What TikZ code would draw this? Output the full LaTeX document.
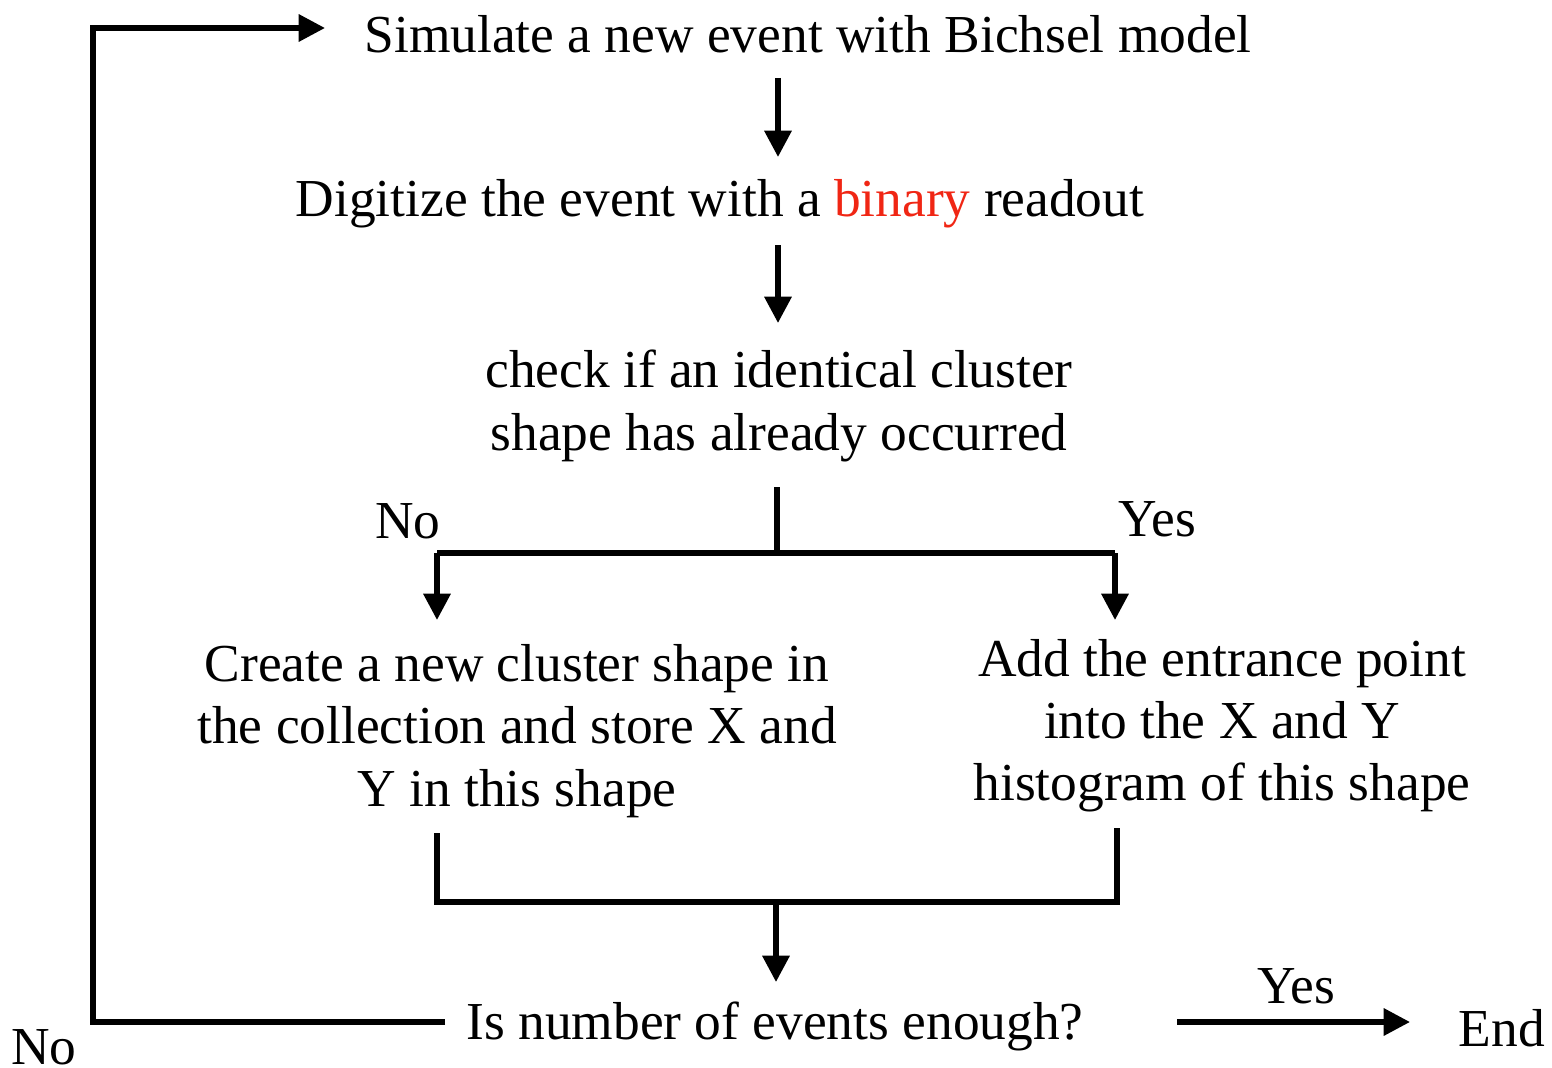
\documentclass[tikz,border=0pt]{standalone}
\usepackage{fontspec}
\setmainfont{Liberation Serif}
\usetikzlibrary{arrows.meta}
\definecolor{binred}{RGB}{240,38,20}
\begin{document}
\begin{tikzpicture}[x=0.02cm,y=-0.02cm,
  txt/.style={font=\fontsize{30.4}{35.4}\selectfont, inner sep=0pt, align=center},
  ln/.style={line width=3.1pt},
  arr/.style={line width=3.1pt, -{Triangle[width=15pt,length=15pt]}}]
\useasboundingbox (0,0) rectangle (1552,1068);
\node[txt] (sim) at (808,34) {Simulate a new event with Bichsel model};
\node[txt] (dig) at (720,204) {Digitize the event with a \textcolor{binred}{binary} readout};
\node[txt] (chk) at (779,406) {check if an identical cluster\\shape has already occurred};
\node[txt] (create) at (517,731) {Create a new cluster shape in\\the collection and store X and\\Y in this shape};
\node[txt] (add) at (1222,726) {Add the entrance point\\into the X and Y\\histogram of this shape};
\node[txt] (enough) at (775,1026) {Is number of events enough?};
\node[txt] (endn) at (1502,1028) {End};
\node[txt] (no1) at (408,521) {No};
\node[txt] (yes1) at (1157,519) {Yes};
\node[txt] (yes2) at (1296,986) {Yes};
\node[txt] (no2) at (44,1047) {No};
% connector coordinates
\coordinate (s1) at (778,78);  \coordinate (e1) at (778,157);
\coordinate (s2) at (778,245); \coordinate (e2) at (778,323);
\coordinate (s3) at (777,487); \coordinate (j3) at (777,553);
\coordinate (bl) at (437,553); \coordinate (br) at (1115,553);
\coordinate (el) at (437,620); \coordinate (er) at (1115,620);
\coordinate (cl) at (437,833); \coordinate (cr) at (1117,828);
\coordinate (ml) at (437,902); \coordinate (mr) at (1117,902);
\coordinate (m4) at (776,902); \coordinate (e4) at (776,982);
\coordinate (ls) at (445,1022); \coordinate (lc1) at (93,1022);
\coordinate (lc2) at (93,28); \coordinate (le) at (325,28);
\coordinate (ys) at (1177,1022); \coordinate (ye) at (1410,1022);
\draw[arr] (s1) -- (e1);
\draw[arr] (s2) -- (e2);
\draw[ln] (s3) -- (j3);
\draw[ln] (bl) -- (br);
\draw[arr] (bl) -- (el);
\draw[arr] (br) -- (er);
\draw[ln] (cl) -- (ml) -- (mr) -- (cr);
\draw[arr] (m4) -- (e4);
\draw[arr] (ls) -- (lc1) -- (lc2) -- (le);
\draw[arr] (ys) -- (ye);
\end{tikzpicture}
\end{document}
